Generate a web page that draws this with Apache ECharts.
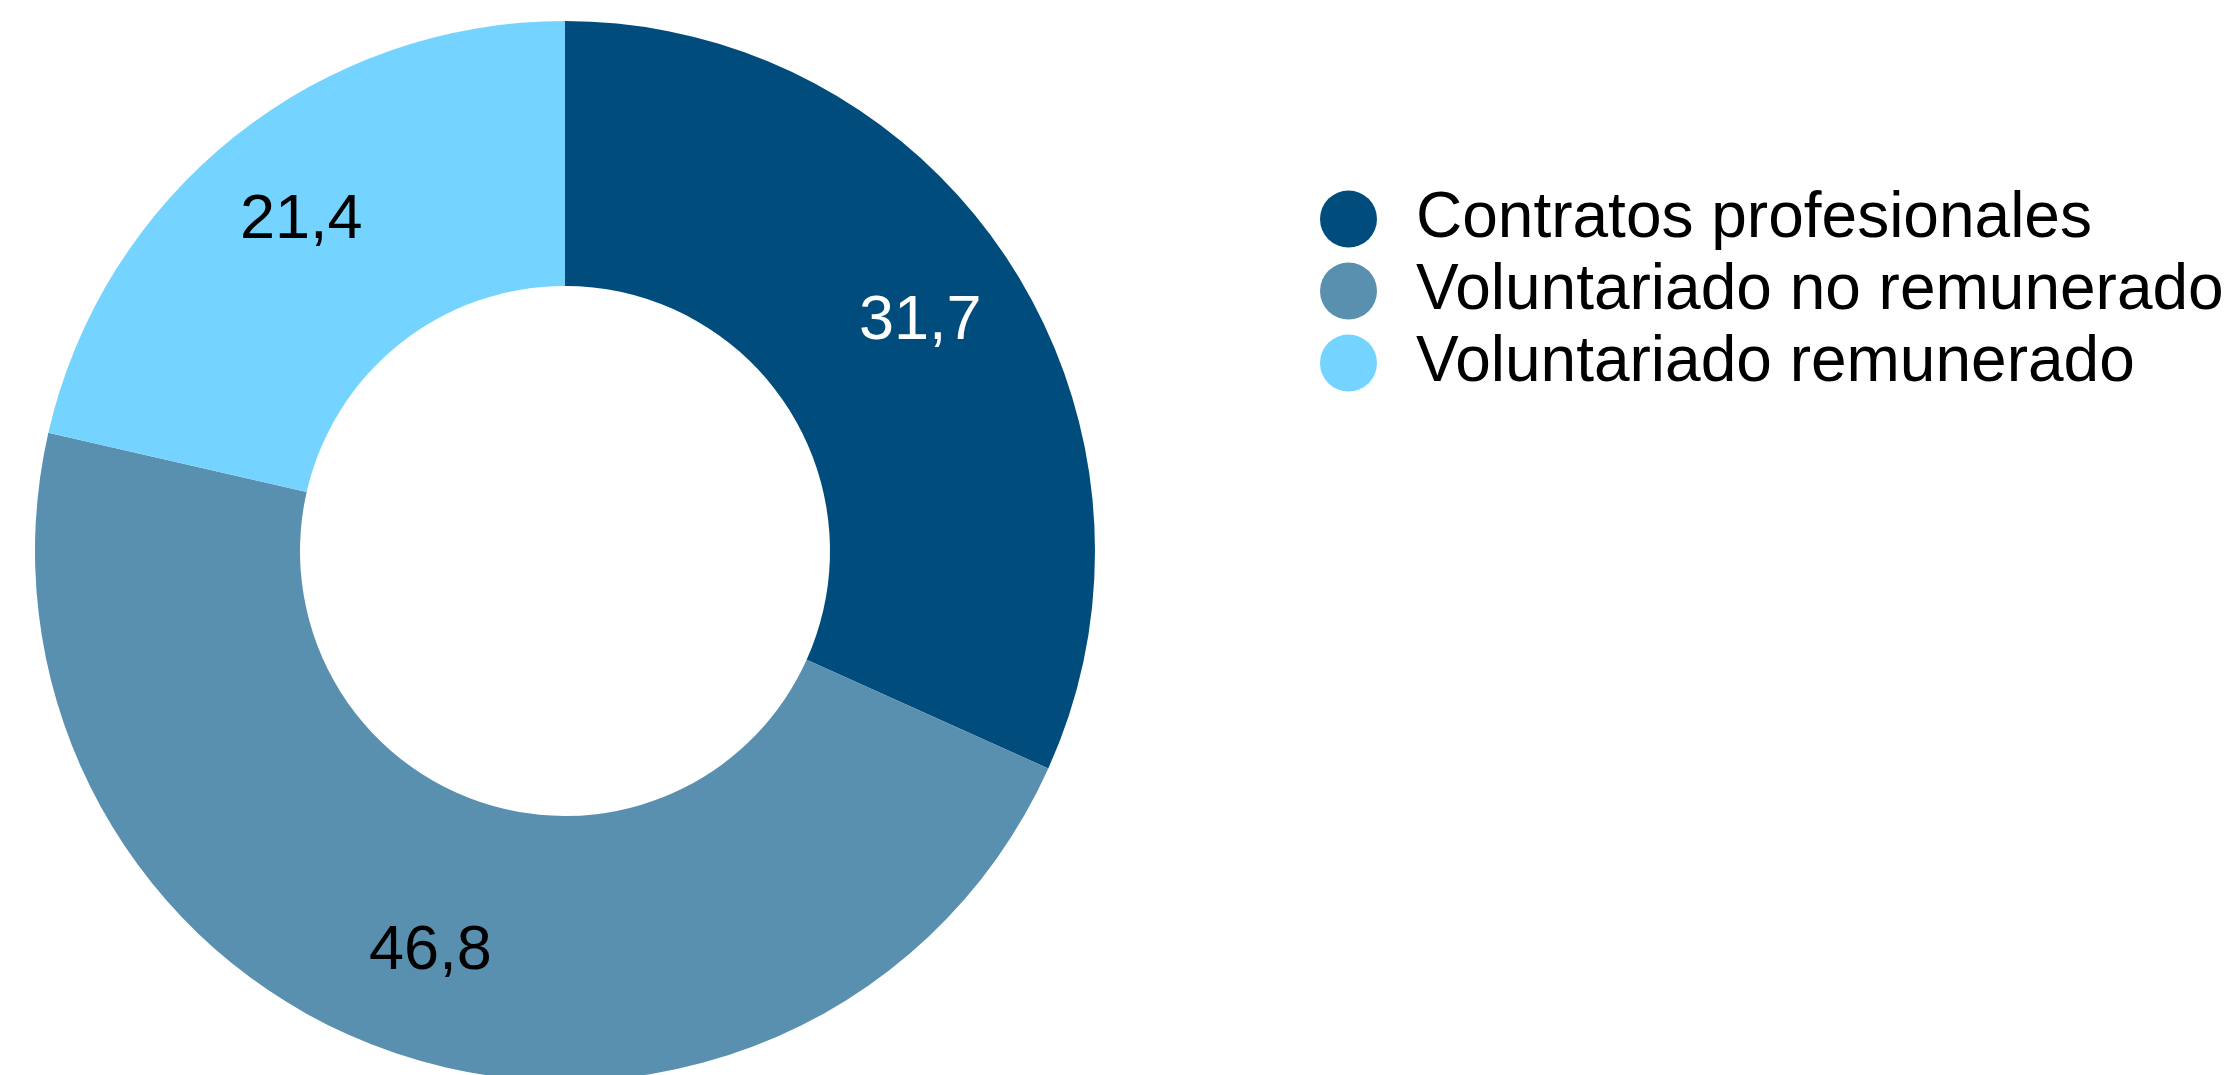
<!DOCTYPE html>
<html>
<head>
<meta charset="utf-8">
<script src="https://cdn.jsdelivr.net/npm/echarts@6/dist/echarts.min.js"></script>
<style>
html,body{margin:0;padding:0;background:#fff;}
#chart{width:2233px;height:1075px;}
</style>
</head>
<body>
<div id="chart"></div>
<script>
const categories = ['Contratos profesionales', 'Voluntariado no remunerado', 'Voluntariado remunerado'];
const values = [31.7, 46.8, 21.4];
const colors = ['#004C7D', '#5A90AF', '#75D4FF'];
const labelColors = ['#ffffff', '#000000', '#000000'];

const FONT = '"Liberation Sans", Arial, sans-serif';

const chart = echarts.init(document.getElementById('chart'), null, {renderer: 'canvas'});
chart.setOption({
  backgroundColor: '#ffffff',
  animation: false,
  legend: {
    orient: 'vertical',
    left: 1315,
    top: 182,
    icon: 'circle',
    itemWidth: 57,
    itemHeight: 57,
    itemGap: 8,
    textStyle: {
      fontFamily: FONT,
      fontSize: 64,
      lineHeight: 64,
      color: '#000000',
      padding: [0, 0, 0, 34]
    },
    data: categories
  },
  series: [{
    type: 'pie',
    center: [565, 551],
    radius: [265, 530],
    startAngle: 90,
    clockwise: true,
    avoidLabelOverlap: false,
    itemStyle: {borderWidth: 0},
    label: {show: false},
    labelLine: {show: false},
    emphasis: {disabled: true},
    data: categories.map((c, i) => ({
      name: c,
      value: values[i],
      itemStyle: {color: colors[i]}
    }))
  }, {
    // transparent ring used only to place the value labels
    type: 'pie',
    center: [565, 551],
    radius: [310, 530],
    startAngle: 90,
    clockwise: true,
    silent: true,
    avoidLabelOverlap: false,
    itemStyle: {color: 'rgba(0,0,0,0)', borderWidth: 0},
    label: {
      show: true,
      position: 'inside',
      fontFamily: FONT,
      fontSize: 63,
      formatter: p => String(p.value).replace('.', ',')
    },
    labelLine: {show: false},
    emphasis: {disabled: true},
    data: categories.map((c, i) => ({
      name: c,
      value: values[i],
      itemStyle: {color: 'rgba(0,0,0,0)'},
      label: {color: labelColors[i]}
    }))
  }]
});
</script>
</body>
</html>
